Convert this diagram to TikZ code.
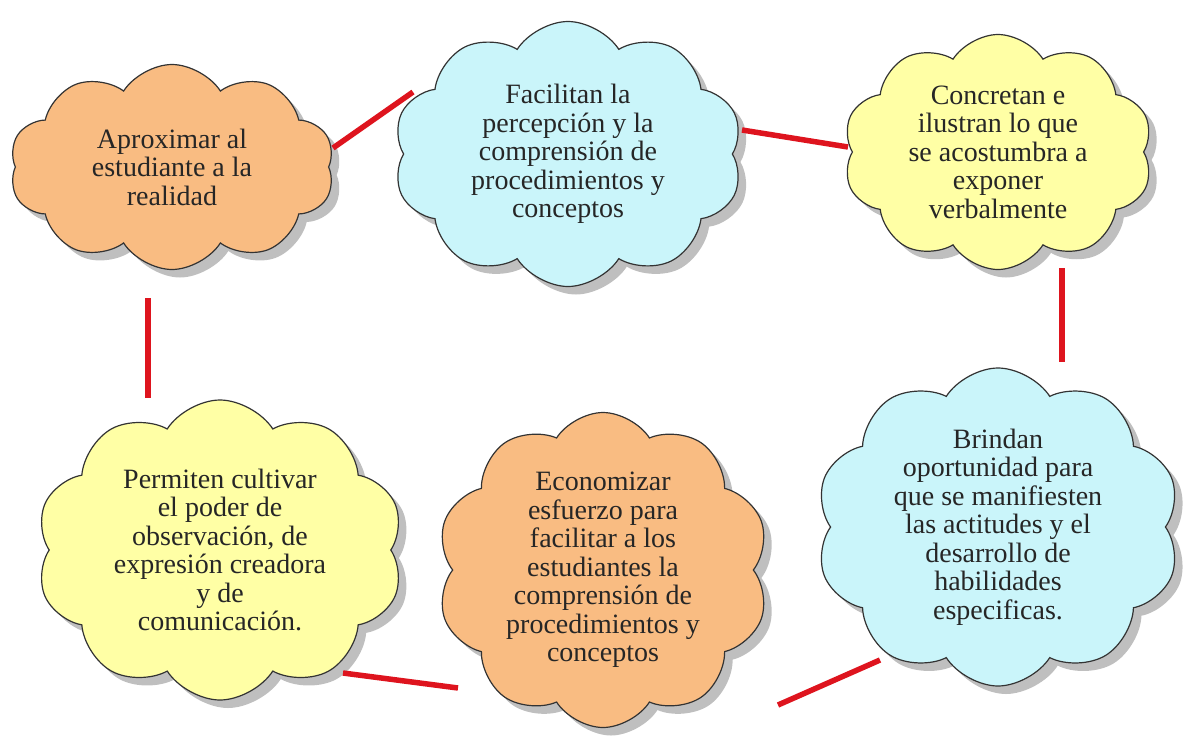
\documentclass[tikz,border=0pt]{standalone}
\usepackage{fontspec}
\setmainfont{Liberation Serif}
\usetikzlibrary{shapes.symbols, shadows}
\definecolor{naranja}{RGB}{249,188,130}
\definecolor{celeste}{RGB}{202,245,250}
\definecolor{amarillo}{RGB}{255,255,165}
\definecolor{rojo}{RGB}{222,20,30}
\tikzset{nube/.style={cloud, cloud puffs=10, cloud puff arc=115, cloud ignores aspect,
    draw=black!80, line width=1.2pt, align=center, text=black!85, inner sep=0pt,
    font=\fontsize{28}{28.5}\selectfont,
    drop shadow={shadow xshift=8pt, shadow yshift=-8pt, fill=black!50}},
  enlace/.style={draw=rojo, line width=5.5pt}}

\begin{document}
\begin{tikzpicture}[x=1pt,y=-1pt]
      \useasboundingbox (0,0) rectangle (1188,742);
      \node[nube, fill=naranja, minimum width=325pt, minimum height=205pt] (aprox) at (172,167)
         {Aproximar al\\estudiante a la\\realidad};
      \node[nube, fill=celeste, minimum width=350pt, minimum height=265pt] (facil) at (568,154)
         {Facilitan la\\percepción y la\\comprensión de\\procedimientos y\\conceptos};
      \node[nube, fill=amarillo, minimum width=310pt, minimum height=235pt] (concr) at (998,152)
         {Concretan e\\ilustran lo que\\se acostumbra a\\exponer\\verbalmente};
      \node[nube, fill=amarillo, minimum width=368pt, minimum height=300pt] (permi) at (220,550)
         {Permiten cultivar\\el poder de\\observación, de\\expresión creadora\\y de\\comunicación.};
      \node[nube, fill=naranja, minimum width=333pt, minimum height=315pt] (econo) at (603,570)
         {Economizar\\esfuerzo para\\facilitar a los\\estudiantes la\\comprensión de\\procedimientos y\\conceptos};
      \node[nube, fill=celeste, minimum width=365pt, minimum height=318pt] (brind) at (998,527)
         {Brindan\\oportunidad para\\que se manifiesten\\las actitudes y el\\desarrollo de\\habilidades\\especificas.};
      \draw[enlace] ([xshift=161pt,yshift=19pt]aprox.center) -- ([xshift=-155pt,yshift=62pt]facil.center);
      \draw[enlace] ([xshift=174pt,yshift=24pt]facil.center) -- ([xshift=-150pt,yshift=5pt]concr.center);
      \draw[enlace] ([xshift=64pt,yshift=-116pt]concr.center) -- ([xshift=64pt,yshift=165pt]brind.center);
      \draw[enlace] ([xshift=-24pt,yshift=-131pt]aprox.center) -- ([xshift=-72pt,yshift=152pt]permi.center);
      \draw[enlace] ([xshift=123pt,yshift=-123pt]permi.center) -- ([xshift=-145pt,yshift=-118pt]econo.center);
      \draw[enlace] ([xshift=175pt,yshift=-135pt]econo.center) -- ([xshift=-118pt,yshift=-133pt]brind.center);
\end{tikzpicture}
\end{document}
